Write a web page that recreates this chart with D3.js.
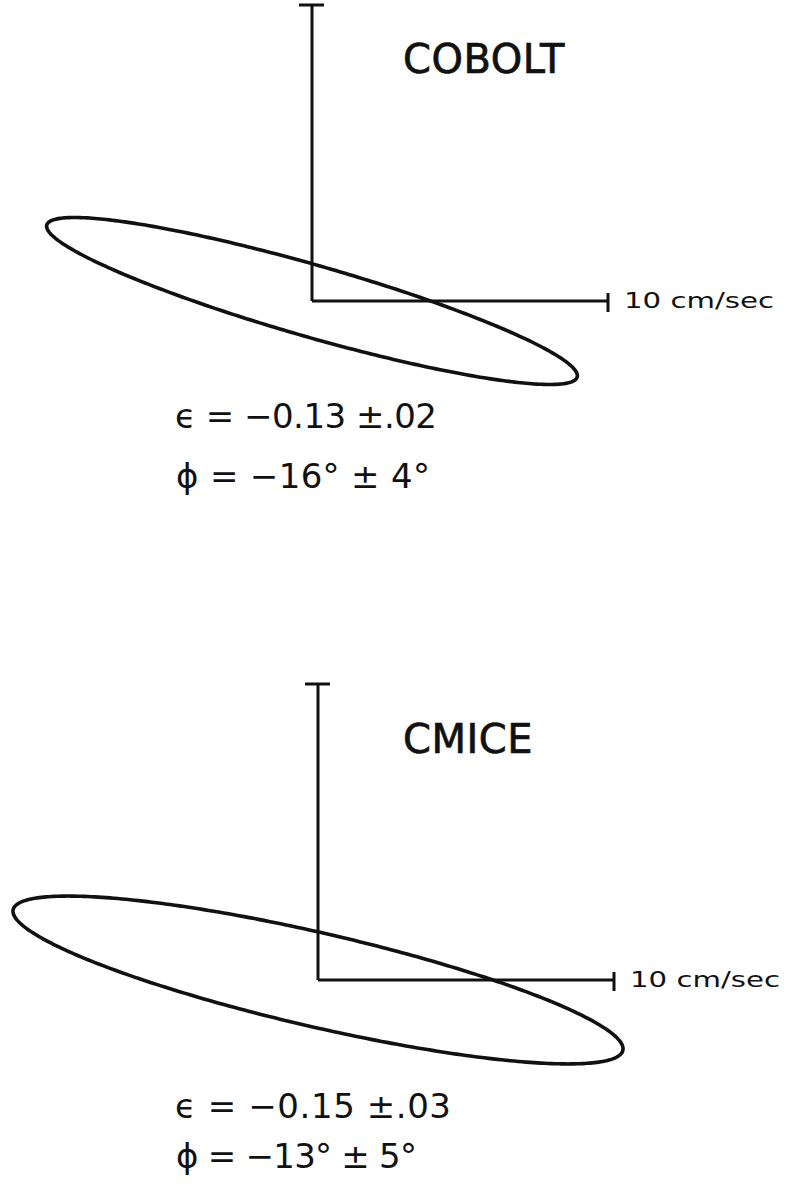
<!DOCTYPE html>
<html>
<head>
<meta charset="utf-8">
<script src="https://cdn.jsdelivr.net/npm/d3@7"></script>
<style>
  html, body { margin: 0; background: #fff; }
  text { font-family: "DejaVu Sans", sans-serif; fill: #111; }
</style>
</head>
<body>
<svg id="chart" width="786" height="1184"></svg>
<script>
// Tidal current ellipses at two stations
const stations = ["COBOLT", "CMICE"];
const semiMajor = [9.32, 10.57];        // cm/sec
const ellipticity = [-0.13, -0.15];     // minor/major, sign = rotation sense
const ellipticityErr = [0.02, 0.03];
const orientation = [-16, -13];         // degrees from east
const orientationErr = [4, 5];
const scaleBar = 10;                    // cm/sec
const scaleLabel = "10 cm/sec";

// Layout of each panel (origin of the axes and text baselines)
const pxPerUnit = 29.6;
const panels = [
  { ox: 312, oy: 301, titleX: 403, titleY: 73,  epsY: 428,  phiY: 488,  epsW: 262, phiW: 254 },
  { ox: 318, oy: 980, titleX: 403, titleY: 753, epsY: 1118, phiY: 1168, epsW: 276, phiW: 241 }
];

const svg = d3.select("#chart");
const fmt2 = d3.format(".2f");
const errFmt = v => fmt2(v).replace(/^0/, "");

stations.forEach((name, i) => {
  const p = panels[i];
  const x = d3.scaleLinear().domain([0, scaleBar]).range([p.ox, p.ox + scaleBar * pxPerUnit]);
  const y = d3.scaleLinear().domain([0, scaleBar]).range([p.oy, p.oy - scaleBar * pxPerUnit]);
  const g = svg.append("g");

  // ellipse traced in velocity space, rotated by the orientation angle
  const a = semiMajor[i];
  const b = Math.abs(ellipticity[i]) * a;
  const th = orientation[i] * Math.PI / 180;
  const pts = d3.range(0, 360, 1).map(deg => {
    const t = deg * Math.PI / 180;
    const u = a * Math.cos(t), v = b * Math.sin(t);
    return [u * Math.cos(th) - v * Math.sin(th), u * Math.sin(th) + v * Math.cos(th)];
  });
  const line = d3.line().x(d => x(d[0])).y(d => y(d[1])).curve(d3.curveLinearClosed);
  g.append("path")
    .attr("d", line(pts))
    .attr("fill", "none")
    .attr("stroke", "#111")
    .attr("stroke-width", 3.6);

  // north (vertical) and east (horizontal) scale bars
  const axisStyle = sel => sel.attr("stroke", "#111").attr("stroke-width", 3).attr("fill", "none");
  g.append("line").call(axisStyle)
    .attr("x1", x(0)).attr("y1", y(0)).attr("x2", x(0)).attr("y2", y(scaleBar));
  g.append("line").call(axisStyle)
    .attr("x1", x(0) - 13).attr("y1", y(scaleBar)).attr("x2", x(0) + 12).attr("y2", y(scaleBar));
  g.append("line").call(axisStyle)
    .attr("x1", x(0)).attr("y1", y(0)).attr("x2", x(scaleBar)).attr("y2", y(0));
  g.append("line").call(axisStyle)
    .attr("x1", x(scaleBar)).attr("y1", y(0) - 8).attr("x2", x(scaleBar)).attr("y2", y(0) + 11);

  g.append("text")
    .attr("x", x(scaleBar) + 16).attr("y", y(0) + 7)
    .attr("font-size", 22)
    .attr("textLength", 150).attr("lengthAdjust", "spacingAndGlyphs")
    .text(scaleLabel);

  // station name
  g.append("text")
    .attr("x", p.titleX).attr("y", p.titleY)
    .attr("font-size", 40)
    .attr("letter-spacing", 0.5)
    .attr("stroke", "#111").attr("stroke-width", 0.7)
    .text(name);

  // ellipticity and orientation with uncertainties
  g.append("text")
    .attr("x", 175).attr("y", p.epsY)
    .attr("font-size", 34)
    .attr("textLength", p.epsW).attr("lengthAdjust", "spacing")
    .text(`ϵ = ${fmt2(ellipticity[i])} ±${errFmt(ellipticityErr[i])}`);

  g.append("text")
    .attr("x", 176).attr("y", p.phiY)
    .attr("font-size", 34)
    .attr("textLength", p.phiW).attr("lengthAdjust", "spacing")
    .text(`ϕ = −${Math.abs(orientation[i])}° ± ${orientationErr[i]}°`);
});
</script>
</body>
</html>
